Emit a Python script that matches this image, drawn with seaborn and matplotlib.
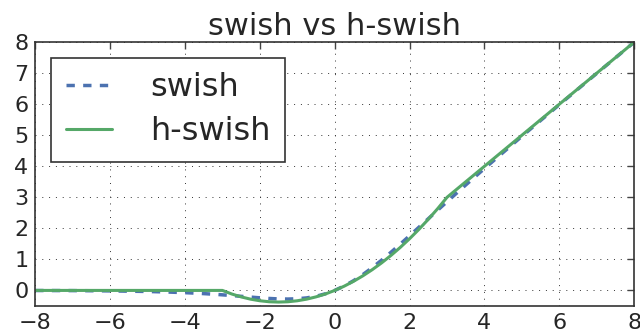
import matplotlib
matplotlib.use("Agg")
import matplotlib.pyplot as plt
import seaborn as sns
import pandas as pd

# values
x_vals = [-8, -7, -6, -5, -4.5, -4, -3.75, -3.5, -3.25, -3, -2.75, -2.5, -2.25, -2,
          -1.75, -1.5, -1.25, -1, -0.75, -0.5, -0.25, 0, 0.25, 0.5, 0.75, 1, 1.25,
          1.5, 1.75, 2, 2.25, 2.5, 2.75, 3, 3.25, 3.5, 3.75, 4, 5, 6, 7, 8]
swish_vals = [-0.003, -0.006, -0.015, -0.034, -0.050, -0.072, -0.086, -0.103, -0.121,
              -0.142, -0.165, -0.190, -0.215, -0.238, -0.259, -0.274, -0.278, -0.269,
              -0.241, -0.189, -0.109, 0.0, 0.141, 0.311, 0.509, 0.731, 0.972, 1.226,
              1.491, 1.762, 2.036, 2.310, 2.585, 2.858, 3.129, 3.398, 3.664, 3.928,
              4.967, 5.985, 6.994, 7.997]
hswish_vals = [0.0, 0.0, 0.0, 0.0, 0.0, 0.0, 0.0, 0.0, 0.0, 0.0, -0.115, -0.208,
               -0.281, -0.333, -0.365, -0.375, -0.365, -0.333, -0.281, -0.208, -0.115,
               0.0, 0.135, 0.292, 0.469, 0.667, 0.885, 1.125, 1.385, 1.667, 1.969,
               2.292, 2.635, 3.0, 3.25, 3.5, 3.75, 4.0, 5.0, 6.0, 7.0, 8.0]
x_ticks = [-8, -6, -4, -2, 0, 2, 4, 6, 8]
y_ticks = [0, 1, 2, 3, 4, 5, 6, 7, 8]

df = pd.DataFrame({"x": x_vals, "swish": swish_vals, "h-swish": hswish_vals})

sns.set_theme(style="white")
plt.rcParams["font.family"] = ["DejaVu Sans"]
pal = sns.color_palette("deep")

fig = plt.figure(figsize=(6.4, 3.34), dpi=100)
ax = fig.add_axes([0.055, 0.084, 0.936, 0.79])

sns.lineplot(data=df, x="x", y="swish", ax=ax, color=pal[0], lw=2.5,
             linestyle=(0, (2.4, 2.4)), label="swish")
sns.lineplot(data=df, x="x", y="h-swish", ax=ax, color=pal[2], lw=2.2,
             label="h-swish")

ax.set_xlim(-8, 8)
ax.set_ylim(-0.5, 8)
ax.set_xticks(x_ticks)
ax.set_yticks(y_ticks)
ax.set_xlabel("")
ax.set_ylabel("")
ax.set_title("swish vs h-swish", fontsize=22, color="#262626", pad=5)
ax.grid(True, color="#333333", linestyle=(0, (1, 6)), linewidth=0.7)
ax.tick_params(direction="in", length=5, width=1, top=True, right=True,
               labelsize=16, colors="#444444", labelcolor="#262626", pad=5)
for s in ax.spines.values():
    s.set_visible(True)
    s.set_color("#333333")
    s.set_linewidth(1.2)

leg = ax.legend(loc="upper left", fontsize=23, handlelength=1.45, handletextpad=1.2,
                borderpad=0.45, labelspacing=0.4, frameon=True, fancybox=False,
                borderaxespad=0.5)
leg.get_frame().set_edgecolor("#333333")
leg.get_frame().set_linewidth(1.2)
leg.get_frame().set_alpha(1)
for t in leg.get_texts():
    t.set_color("#262626")

fig.savefig("out.png", dpi=100)
